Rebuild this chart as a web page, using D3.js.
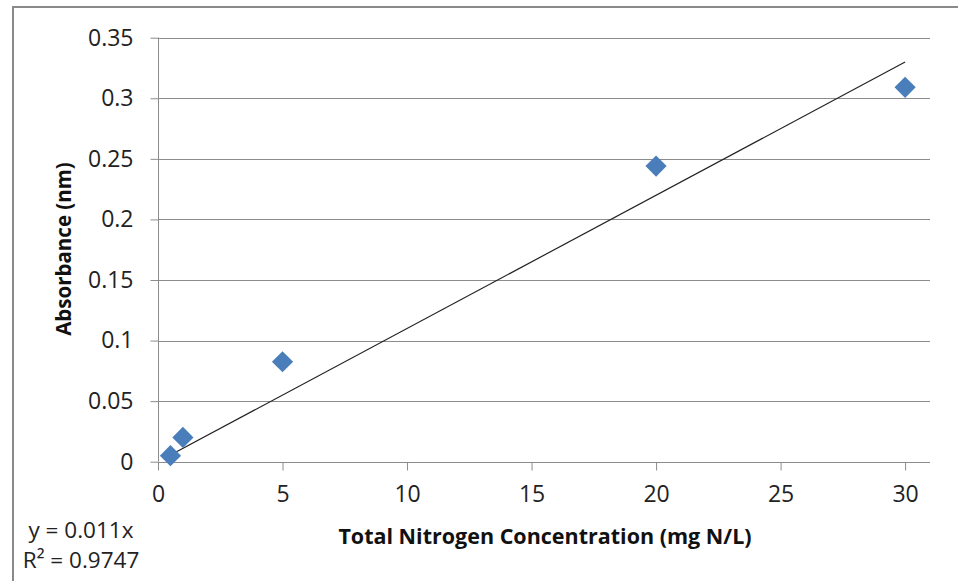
<!DOCTYPE html>
<html>
<head>
<meta charset="utf-8">
<script src="https://cdn.jsdelivr.net/npm/d3@7"></script>
<style>
  html, body { margin: 0; padding: 0; background: #fff; }
  svg { display: block; }
</style>
</head>
<body>
<svg id="chart" width="958" height="581"></svg>
<script>
// ---- data ----
const concentrations = [0.5, 1, 5, 20, 30];
const absorbances = [0.005, 0.020, 0.0825, 0.244, 0.309];
const xTicks = [0, 5, 10, 15, 20, 25, 30];
const yTicks = [0, 0.05, 0.1, 0.15, 0.2, 0.25, 0.3, 0.35];
const xTitle = "Total Nitrogen Concentration (mg N/L)";
const yTitle = "Absorbance (nm)";
const equationLines = ["y = 0.011x", "R\u00B2 = 0.9747"];

const svg = d3.select("#chart");
const font = "'Open Sans', 'Liberation Sans', sans-serif";
const gridColor = "#8c8c8c";

// outer chart border
svg.append("rect")
  .attr("x", 13).attr("y", 7)
  .attr("width", 980).attr("height", 600)
  .attr("fill", "none").attr("stroke", "#8a8a8a").attr("stroke-width", 2);

const x = d3.scaleLinear().domain([0, 31]).range([158, 930]);
const y = d3.scaleLinear().domain([0, 0.35]).range([461.7, 37.7]);

// gridlines (horizontal)
svg.append("g")
  .selectAll("line")
  .data(yTicks.filter(d => d > 0))
  .join("line")
  .attr("x1", x(0)).attr("x2", x(31))
  .attr("y1", d => Math.round(y(d)) + 0.5).attr("y2", d => Math.round(y(d)) + 0.5)
  .attr("stroke", gridColor).attr("stroke-width", 1);

// y axis
const yAxis = svg.append("g")
  .attr("transform", `translate(${Math.round(x(0)) + 0.5},0)`)
  .call(d3.axisLeft(y).tickValues(yTicks).tickSize(8).tickPadding(17)
        .tickFormat(d => d3.format("")(+d.toFixed(2))));
yAxis.select(".domain").attr("stroke", gridColor).attr("d", `M0,${y(0.35)}V${y(0)}`);
yAxis.selectAll(".tick line").attr("stroke", gridColor);
yAxis.selectAll(".tick text")
  .attr("font-family", font).attr("font-size", 23).attr("fill", "#222");

// x axis
const xAxis = svg.append("g")
  .attr("transform", `translate(0,${Math.round(y(0)) + 0.5})`)
  .call(d3.axisBottom(x).tickValues(xTicks).tickSize(8).tickPadding(15));
xAxis.select(".domain").attr("stroke", gridColor).attr("d", `M${x(0)},0H${x(31)}`);
xAxis.selectAll(".tick line").attr("stroke", gridColor);
xAxis.selectAll(".tick text")
  .attr("font-family", font).attr("font-size", 23).attr("fill", "#222");

// trendline through origin (least squares)
const pts = concentrations.map((c, i) => ({ x: c, y: absorbances[i] }));
const slope = d3.sum(pts, p => p.x * p.y) / d3.sum(pts, p => p.x * p.x);
const xMin = d3.min(concentrations), xMax = d3.max(concentrations);
svg.append("line")
  .attr("x1", x(xMin)).attr("y1", y(slope * xMin))
  .attr("x2", x(xMax)).attr("y2", y(slope * xMax))
  .attr("stroke", "#222").attr("stroke-width", 1.2);

// markers (diamonds)
const diamond = d3.symbol().type(d3.symbolSquare).size(225);
svg.append("g")
  .selectAll("path")
  .data(pts)
  .join("path")
  .attr("d", diamond)
  .attr("transform", d => `translate(${x(d.x)},${y(d.y)}) rotate(45)`)
  .attr("fill", "#4a7ebb");

// axis titles
svg.append("text")
  .attr("x", 545).attr("y", 544)
  .attr("text-anchor", "middle")
  .attr("font-family", font).attr("font-weight", "bold").attr("font-size", 21.5)
  .attr("fill", "#111")
  .text(xTitle);

svg.append("text")
  .attr("transform", "translate(71,249) rotate(-90)")
  .attr("text-anchor", "middle")
  .attr("font-family", font).attr("font-weight", "bold").attr("font-size", 20.5)
  .attr("fill", "#111")
  .text(yTitle);

// equation label
svg.append("g")
  .selectAll("text")
  .data(equationLines)
  .join("text")
  .attr("x", 81).attr("y", (d, i) => 538 + i * 30)
  .attr("text-anchor", "middle")
  .attr("font-family", font).attr("font-size", 22.5)
  .attr("fill", "#222")
  .text(d => d);
</script>
</body>
</html>
